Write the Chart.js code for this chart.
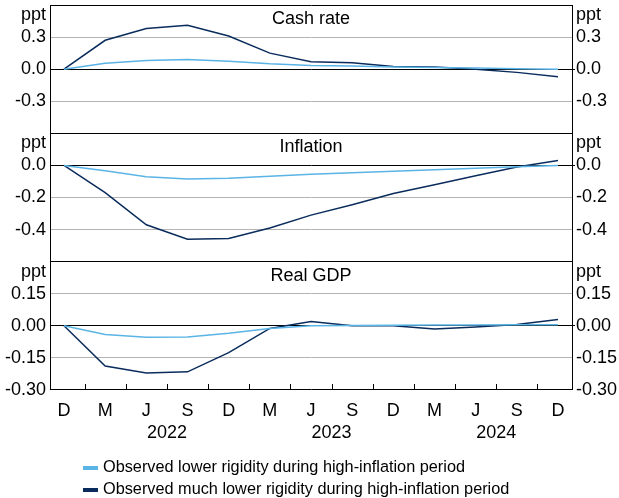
<!DOCTYPE html>
<html>
<head>
<meta charset="utf-8">
<script src="https://cdn.jsdelivr.net/npm/chart.js@4/dist/chart.umd.min.js"></script>
<style>
  body { margin: 0; background: #fff; }
  #wrap { position: relative; width: 619px; height: 498px; }
  #legend { position: absolute; left: 83px; top: 455px; font: 16.3px "Liberation Sans", Arial, sans-serif; color: #000; }
  #legend div { height: 22px; line-height: 22px; white-space: nowrap; }
  #legend span { display: inline-block; width: 15px; height: 4px; vertical-align: middle; margin-right: 5px; }
</style>
</head>
<body>
<div id="wrap"><canvas id="chart"></canvas><div id="legend"></div></div>
<script>
// quarters, tick letters and years
var quarters = ['2021-12', '2022-03', '2022-06', '2022-09', '2022-12', '2023-03', '2023-06', '2023-09', '2023-12', '2024-03', '2024-06', '2024-09', '2024-12'];
var quarterTicks = ['D', 'M', 'J', 'S', 'D', 'M', 'J', 'S', 'D', 'M', 'J', 'S', 'D'];
var years = ['2022', '2023', '2024'];
var seriesNames = ['Observed lower rigidity during high-inflation period', 'Observed much lower rigidity during high-inflation period'];
var panelTitles = ['Cash rate', 'Inflation', 'Real GDP'];

// ppt deviations
var cashLower = [0, 0.055, 0.08, 0.09, 0.075, 0.05, 0.035, 0.03, 0.02, 0.015, 0.01, 0.005, 0.0];
var cashMuchLower = [0, 0.27, 0.38, 0.41, 0.31, 0.15, 0.07, 0.06, 0.025, 0.02, 0.0, -0.03, -0.07];
var inflLower = [0, -0.033, -0.07, -0.085, -0.08, -0.067, -0.055, -0.046, -0.036, -0.027, -0.018, -0.009, 0.0];
var inflMuchLower = [0, -0.17, -0.37, -0.46, -0.455, -0.39, -0.31, -0.245, -0.175, -0.12, -0.065, -0.01, 0.03];
var gdpLower = [0, -0.04, -0.053, -0.052, -0.035, -0.013, 0.0, 0.002, 0.003, 0.004, 0.004, 0.005, 0.005];
var gdpMuchLower = [0, -0.188, -0.22, -0.215, -0.125, -0.012, 0.02, 0.0, 0.0, -0.015, -0.006, 0.006, 0.03];

// y tick values per panel
var cashTicks = [-0.6, -0.3, 0, 0.3, 0.6];
var inflTicks = [-0.6, -0.4, -0.2, 0, 0.2];
var gdpTicks = [-0.3, -0.15, 0, 0.15, 0.3];

var lightBlue = '#5ab4e5';
var darkBlue = '#0a2c5c';
var FONT = "'Liberation Sans', Arial, sans-serif";
Chart.defaults.font.family = FONT;
Chart.defaults.color = '#000';

// year label sits in the middle of its quarters
var yearCentres = years.map(function(y) {
    var idx = [];
    quarters.forEach(function(q, i) { if (q.indexOf(y) === 0) idx.push(i); });
    return idx.reduce(function(a, b) { return a + b; }, 0) / idx.length;
});

function near(a, b) { return Math.abs(a - b) < 1e-9; }

function noPad(s) { s.paddingTop = 0; s.paddingBottom = 0; s.paddingLeft = 0; s.paddingRight = 0; }

function yAxis(ticks, dec, pos, weight, showMin) {
    var left = pos === 'left';
    return {
        type: 'linear',
        position: pos,
        stack: pos,
        stackWeight: 1,
        weight: weight,
        min: ticks[0],
        max: ticks[ticks.length - 1],
        afterBuildTicks: function(s) { s.ticks = ticks.map(function(v) { return { value: v }; }); },
        afterFit: function(s) { s.width = left ? 50 : 47; noPad(s); },
        border: { display: true, color: '#000', width: 1 },
        grid: left ? {
            drawTicks: false,
            color: function(c) {
                var v = c.tick.value;
                return (near(v, 0) || near(v, c.scale.min) || near(v, c.scale.max)) ? '#000' : '#b4b4b4';
            }
        } : {
            drawOnChartArea: false,
            drawTicks: true,
            tickLength: 3,
            color: function(c) { return near(c.tick.value, 0) ? '#000' : 'rgba(0,0,0,0)'; }
        },
        ticks: {
            autoSkip: false,
            padding: left ? 4 : 1,
            font: { size: 18 },
            callback: function(v) {
                if (near(v, ticks[ticks.length - 1])) return '';
                if (near(v, ticks[0]) && !showMin) return '';
                return (near(v, 0) ? 0 : v).toFixed(dec);
            }
        }
    };
}

function line(data, color, axis) {
    return {
        data: data.map(function(v, i) { return { x: i, y: v }; }),
        borderColor: color,
        backgroundColor: color,
        borderWidth: 1.5,
        pointRadius: 0,
        tension: 0,
        yAxisID: axis
    };
}

var panelText = {
    id: 'panelText',
    afterDraw: function(chart) {
        var ctx = chart.ctx;
        var area = chart.chartArea;
        var ids = [['cashL', 'cashR'], ['inflL', 'inflR'], ['gdpL', 'gdpR']];
        ctx.save();
        ctx.fillStyle = '#000';
        ctx.textBaseline = 'middle';
        ids.forEach(function(p, i) {
            var sl = chart.scales[p[0]], sr = chart.scales[p[1]];
            ctx.font = '18px ' + FONT;
            ctx.textAlign = 'center';
            ctx.fillText(panelTitles[i], (area.left + area.right) / 2, sl.top + 14);
            ctx.textAlign = 'right';
            ctx.fillText('ppt', sl.right - 4, sl.top + 10);
            ctx.textAlign = 'left';
            ctx.fillText('ppt', sr.left + 4, sr.top + 10);
        });
        // inward tick marks between quarters on the bottom panel
        var x = chart.scales.x;
        ctx.strokeStyle = '#000';
        ctx.lineWidth = 1;
        ctx.beginPath();
        for (var k = 0; k < quarters.length - 1; k++) {
            var px = Math.round(x.getPixelForValue(k + 0.5)) + 0.5;
            ctx.moveTo(px, area.bottom);
            ctx.lineTo(px, area.bottom - 6);
        }
        ctx.stroke();
        ctx.restore();
    }
};

new Chart(document.getElementById('chart'), {
    type: 'line',
    data: {
        datasets: [
            line(cashLower, lightBlue, 'cashL'),
            line(cashMuchLower, darkBlue, 'cashL'),
            line(inflLower, lightBlue, 'inflL'),
            line(inflMuchLower, darkBlue, 'inflL'),
            line(gdpLower, lightBlue, 'gdpL'),
            line(gdpMuchLower, darkBlue, 'gdpL')
        ]
    },
    options: {
        responsive: true,
        maintainAspectRatio: false,
        animation: false,
        layout: { padding: { top: 5, left: 0, right: 0, bottom: 52 } },
        plugins: { legend: { display: false }, tooltip: { enabled: false } },
        scales: {
            x: {
                type: 'linear',
                position: 'bottom',
                weight: 0,
                min: -0.34,
                max: quarters.length - 1 + 0.34,
                afterBuildTicks: function(s) { s.ticks = quarterTicks.map(function(t, i) { return { value: i }; }); },
                afterFit: function(s) { s.height = 28; noPad(s); },
                grid: { display: false },
                border: { display: false },
                ticks: {
                    autoSkip: false, maxRotation: 0, padding: 2, font: { size: 18 },
                    callback: function(v, i) { return quarterTicks[i]; }
                }
            },
            xYear: {
                type: 'linear',
                position: 'bottom',
                weight: 1,
                min: -0.34,
                max: quarters.length - 1 + 0.34,
                afterBuildTicks: function(s) { s.ticks = yearCentres.map(function(v) { return { value: v }; }); },
                afterFit: function(s) { s.height = 28; noPad(s); },
                grid: { display: false },
                border: { display: false },
                ticks: {
                    autoSkip: false, maxRotation: 0, padding: -4, font: { size: 18 },
                    callback: function(v, i) { return years[i]; }
                }
            },
            cashL: yAxis(cashTicks, 1, 'left', 3, false),
            inflL: yAxis(inflTicks, 1, 'left', 2, false),
            gdpL: yAxis(gdpTicks, 2, 'left', 1, true),
            cashR: yAxis(cashTicks, 1, 'right', 1, false),
            inflR: yAxis(inflTicks, 1, 'right', 2, false),
            gdpR: yAxis(gdpTicks, 2, 'right', 3, true)
        }
    },
    plugins: [panelText]
});

var legend = document.getElementById('legend');
[lightBlue, darkBlue].forEach(function(c, i) {
    var row = document.createElement('div');
    var sw = document.createElement('span');
    sw.style.background = c;
    row.appendChild(sw);
    row.appendChild(document.createTextNode(seriesNames[i]));
    legend.appendChild(row);
});
</script>
</body>
</html>
